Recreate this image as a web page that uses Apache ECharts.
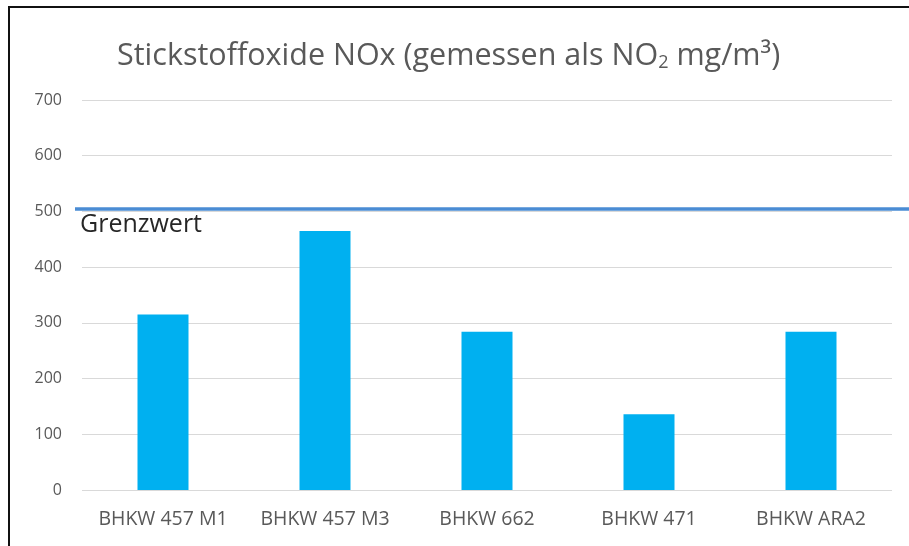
<!DOCTYPE html>
<html>
<head>
<meta charset="utf-8">
<script src="https://cdn.jsdelivr.net/npm/echarts@6/dist/echarts.min.js"></script>
<style>
  html, body { margin: 0; padding: 0; background: #fff; }
  #frame { position: absolute; left: 8px; top: 6px; width: 901px; height: 540px;
           border-left: 2px solid #111; border-top: 2px solid #111; box-sizing: border-box; }
  #chart { position: absolute; left: 0; top: 0; width: 909px; height: 546px; }
</style>
</head>
<body>
<div id="chart"></div>
<div id="frame"></div>
<script>
// Measuring stations (BHKW units)
const categories = ['BHKW 457 M1', 'BHKW 457 M3', 'BHKW 662', 'BHKW 471', 'BHKW ARA2'];
// NOx readings, mg/m³ (as NO2)
const noxValues = [315, 465, 284, 136, 284];
// Limit value line
const limitValue = 504;
const limitLabel = 'Grenzwert';
// Y axis range
const yMin = 0, yMax = 700, yStep = 100;

const chart = echarts.init(document.getElementById('chart'), null, { renderer: 'canvas' });

chart.setOption({
  animation: false,
  backgroundColor: '#ffffff',
  title: {
    text: 'Stickstoffoxide NOx (gemessen als NO{sub|2} mg/m³)',
    left: 112,
    top: 35,
    textStyle: {
      fontFamily: 'Open Sans',
      fontSize: 30.5,
      fontWeight: 'normal',
      color: '#595959',
      rich: {
        sub: { fontFamily: 'Open Sans', fontSize: 18, color: '#595959', verticalAlign: 'bottom', padding: [14, 0, 0, 0] }
      }
    }
  },
  grid: { left: 82, right: 17, top: 100, bottom: 56, containLabel: false },
  xAxis: {
    type: 'category',
    data: categories,
    axisLine: { show: false },
    axisTick: { show: false },
    axisLabel: {
      color: '#595959', fontFamily: 'Open Sans', fontSize: 19.5, margin: 19,
      interval: 0, hideOverlap: false
    }
  },
  yAxis: {
    type: 'value',
    min: yMin, max: yMax, interval: yStep,
    axisLine: { show: false },
    axisTick: { show: false },
    axisLabel: { color: '#595959', fontFamily: 'Open Sans', fontSize: 16, margin: 20 },
    splitLine: { lineStyle: { color: '#d9d9d9', width: 1 } }
  },
  series: [{
    type: 'bar',
    data: noxValues,
    barWidth: 51,
    itemStyle: { color: '#00b0f0' },
    markLine: {
      silent: true,
      symbol: 'none',
      lineStyle: { color: '#4a8cd4', width: 3.5, type: 'solid' },
      label: {
        show: true,
        position: 'insideStartBottom',
        formatter: limitLabel,
        color: '#262626',
        fontFamily: 'Open Sans',
        fontSize: 25,
        distance: [5, 3]
      },
      data: [[{ x: 75, yAxis: limitValue }, { x: 909, yAxis: limitValue }]]
    }
  }]
});
</script>
</body>
</html>
